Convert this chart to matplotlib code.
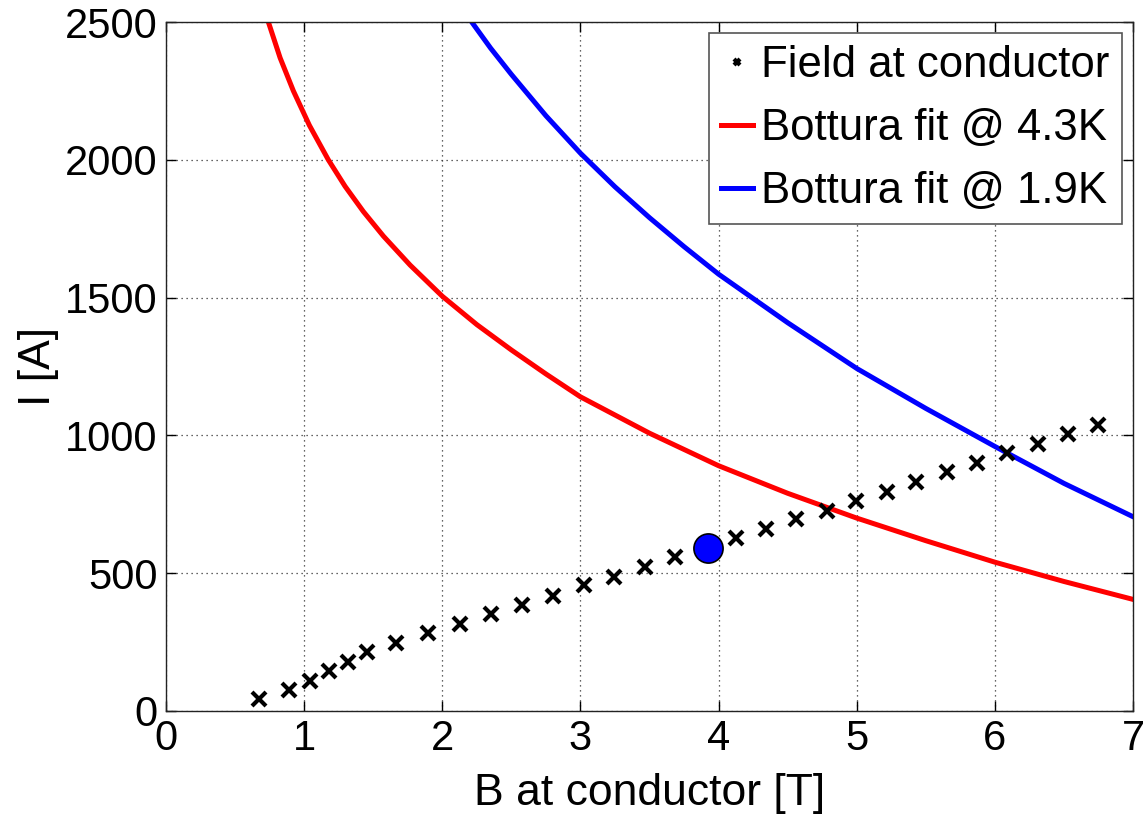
import matplotlib
matplotlib.use('Agg')
import matplotlib.pyplot as plt

# ---- data ----
B_cond = [0.673, 0.891, 1.043, 1.180, 1.318, 1.455, 1.665, 1.897, 2.129, 2.353,
          2.578, 2.802, 3.023, 3.245, 3.466, 3.686, 3.910, 4.126, 4.343, 4.563,
          4.783, 4.998, 5.219, 5.432, 5.655, 5.869, 6.086, 6.309, 6.529, 6.746]
I_cond = [43, 76, 109, 145, 178, 214, 247, 283, 316, 352,
          385, 417, 456, 487, 524, 558, 590, 627, 659, 696,
          726, 763, 796, 831, 867, 899, 937, 968, 1004, 1038]

B_fit43 = [0.741, 0.826, 0.922, 1.038, 1.175, 1.296, 1.429, 1.574, 1.767, 2.0,
           2.25, 2.5, 2.75, 3.0, 3.5, 4.0, 4.5, 5.0, 5.5, 6.0, 6.5, 7.0]
I_fit43 = [2500, 2370, 2250, 2125, 2000, 1904, 1812, 1723, 1618, 1505,
           1402, 1310, 1223, 1140, 1008, 890, 790, 700, 618, 540, 470, 405]

B_fit19 = [2.213, 2.35, 2.5, 2.75, 3.0, 3.25, 3.5, 3.75, 4.0, 4.5,
           5.0, 5.5, 6.0, 6.5, 7.0]
I_fit19 = [2500, 2405, 2310, 2160, 2024, 1902, 1790, 1685, 1585, 1409,
           1243, 1098, 960, 826, 705]

op_B = [3.92]
op_I = [590]

x_ticks = [0, 1, 2, 3, 4, 5, 6, 7]
y_ticks = [0, 500, 1000, 1500, 2000, 2500]

labels = ['Field at conductor', 'Bottura fit @ 4.3K', 'Bottura fit @ 1.9K']

# ---- figure ----
plt.rcParams['font.family'] = ['Liberation Sans', 'DejaVu Sans']
fig = plt.figure(figsize=(11.43, 8.17), dpi=100)
ax = fig.add_axes([166/1143, 106/817, 967/1143, 689/817])

ax.plot(B_cond, I_cond, linestyle='none', marker='x', color='black',
        markersize=9.5, markeredgewidth=3.0, label=labels[0], zorder=3)
ax.plot(B_fit43, I_fit43, color='#ff0000', linewidth=3.6, label=labels[1], zorder=2)
ax.plot(B_fit19, I_fit19, color='#0000ff', linewidth=3.6, label=labels[2], zorder=2)
ax.plot(op_B, op_I, linestyle='none', marker='o', markersize=21,
        markerfacecolor='#0000ff', markeredgecolor='black', markeredgewidth=1.2,
        zorder=4)

ax.set_xlim(0, 7)
ax.set_ylim(0, 2500)
ax.set_xticks(x_ticks)
ax.set_yticks(y_ticks)

ax.grid(True, linestyle=(0, (1, 3)), color='#333333', linewidth=0.9)
ax.set_axisbelow(True)

ax.tick_params(direction='in', length=7, width=1, top=True, right=True,
               labelsize=30, pad=6, colors='black')
for s in ax.spines.values():
    s.set_linewidth(1.0)
    s.set_color('#222222')

ax.set_xlabel('B at conductor [T]', fontsize=32, labelpad=10)
ax.set_ylabel('I [A]', fontsize=32, labelpad=4)

leg = ax.legend(loc='upper right', fontsize=31.5, frameon=True, fancybox=False,
                framealpha=1, edgecolor='#555555', handlelength=0.72,
                handletextpad=0.2, labelspacing=0.5, borderpad=0.28,
                borderaxespad=0.25, markerscale=0.5)
leg.get_frame().set_linewidth(1.2)

fig.savefig('out.png', dpi=100)
